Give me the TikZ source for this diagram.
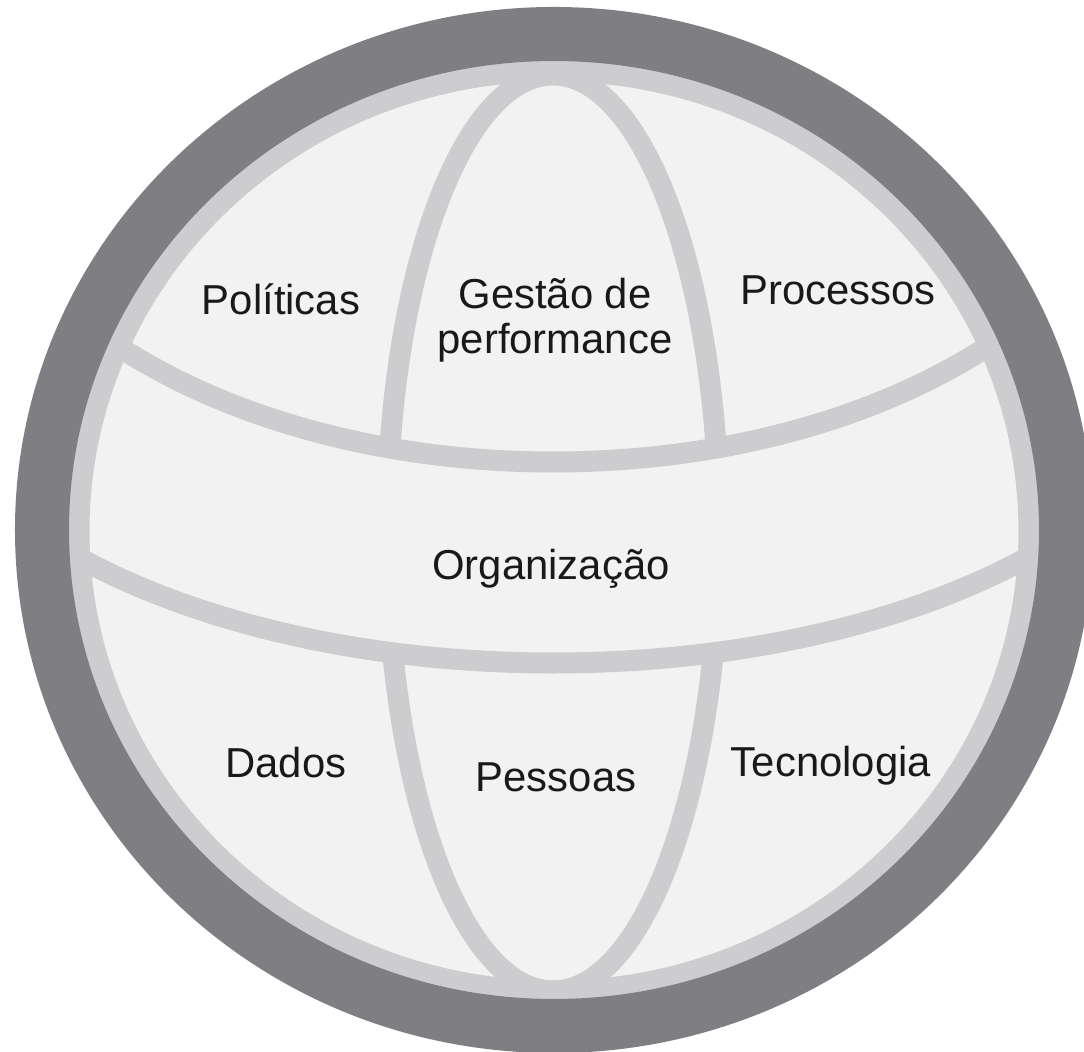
\documentclass[tikz,border=0pt]{standalone}
\usepackage{fontspec}
\setmainfont{Liberation Sans}
\definecolor{globedark}{HTML}{7F7E83}
\definecolor{globeline}{HTML}{CDCDCF}
\definecolor{globefill}{HTML}{F2F2F2}
\begin{document}
\begin{tikzpicture}
    [
    x=0.01cm, y=-0.01cm,
    every node/.style={font=\fontsize{11.9}{12.8}\selectfont, text=black!90, inner sep=0pt},
    gridline/.style={draw=globeline, line width=0.21cm},
    rim/.style={draw=globedark, line width=0.54cm},
    ]
    \useasboundingbox (0,0) rectangle (1084,1052);
    \fill[white] (0,0) rectangle (1084,1052);
    \fill[globefill] (554,531) ellipse [x radius=475, y radius=460];
    % meridians and latitudes
    \begin{scope}
      \clip (554,531) ellipse [x radius=475, y radius=460];
      \draw[gridline] (553,533) ellipse [x radius=166, y radius=458];
      \fill[globefill] (553,330) ellipse [x radius=650, y radius=333];
      \begin{scope}
        \clip (553,90) ellipse [x radius=600, y radius=372];
        \draw[gridline] (553,533) ellipse [x radius=166, y radius=458];
      \end{scope}
      \draw[gridline] (553,90) ellipse [x radius=600, y radius=372];
      \draw[gridline] (553,330) ellipse [x radius=650, y radius=333];
    \end{scope}
    % rim
    \draw[gridline] (554,531) ellipse [x radius=475, y radius=460];
    \draw[rim] (554,530) ellipse [x radius=512, y radius=496];

    \node[anchor=base] (politicas) at (281,315) {Políticas};
    \node[align=center] (gestao) at (555,320) {Gestão de\\performance};
    \node[anchor=base] (processos) at (838,305) {Processos};
    \node[anchor=base] (organizacao) at (551,580) {Organização};
    \node[anchor=base] (dados) at (286,778) {Dados};
    \node[anchor=base] (pessoas) at (556,792) {Pessoas};
    \node[anchor=base] (tecnologia) at (831,777) {Tecnologia};
\end{tikzpicture}
\end{document}
